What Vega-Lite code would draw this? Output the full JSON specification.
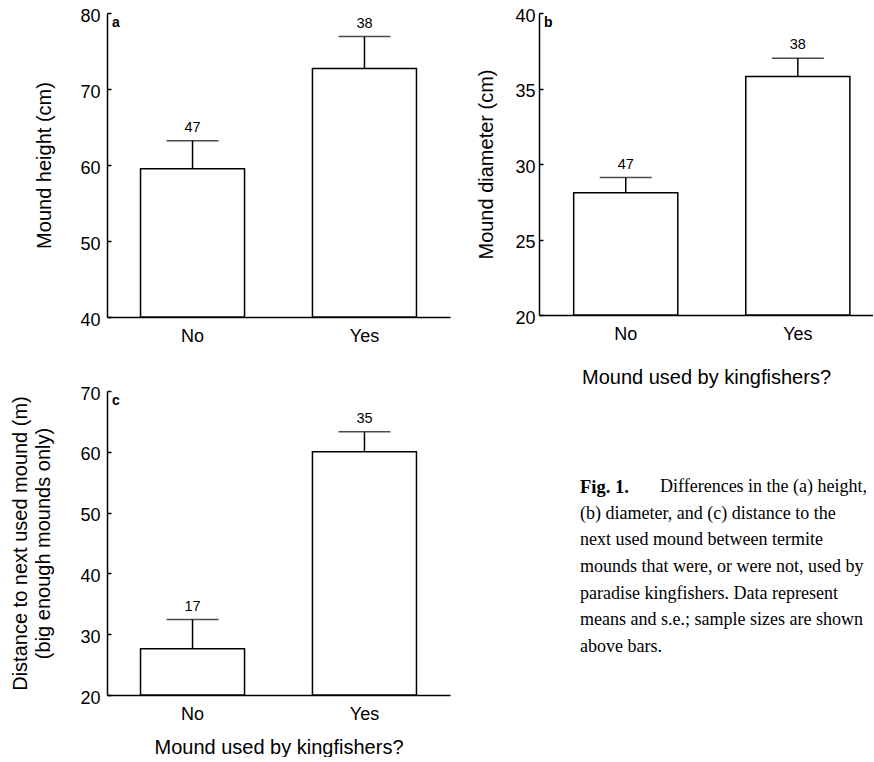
{
  "$schema": "https://vega.github.io/schema/vega-lite/v6.json",
  "padding": {"left": 10, "top": 7, "right": 0, "bottom": 0},
  "background": "white",
  "columns": 2,
  "spacing": {"column": 89, "row": 74},
  "bounds": "flush",
  "config": {
    "view": {"stroke": null},
    "font": "Liberation Sans",
    "axis": {
      "grid": false,
      "domainColor": "black",
      "domainWidth": 1.5,
      "tickColor": "black",
      "tickWidth": 1.5,
      "labelColor": "black",
      "labelFontSize": 18,
      "titleColor": "black",
      "titleFontSize": 20,
      "titleFontWeight": "normal",
      "labelFlush": false
    },
    "axisX": {"ticks": false, "labelPadding": 10, "labelAngle": 0},
    "axisY": {"tickSize": -4, "labelPadding": 11, "labelOffset": 3, "titlePadding": 23}
  },
  "datasets": {
    "bars": [
      {"panel": "a", "used": "No", "mean": 59.5, "upper": 63.2, "n": 47},
      {"panel": "a", "used": "Yes", "mean": 72.7, "upper": 76.9, "n": 38},
      {"panel": "b", "used": "No", "mean": 28.1, "upper": 29.1, "n": 47},
      {"panel": "b", "used": "Yes", "mean": 35.8, "upper": 37.0, "n": 38},
      {"panel": "c", "used": "No", "mean": 27.6, "upper": 32.4, "n": 17},
      {"panel": "c", "used": "Yes", "mean": 60.0, "upper": 63.3, "n": 35}
    ],
    "caption": [
      {"line": 1, "pos": 0, "weight": "bold", "text": "Fig. 1."},
      {"line": 1, "pos": 1, "weight": "normal", "text": "Differences in the (a) height,"},
      {"line": 2, "pos": 0, "weight": "normal", "text": "(b) diameter, and (c) distance to the"},
      {"line": 3, "pos": 0, "weight": "normal", "text": "next used mound between termite"},
      {"line": 4, "pos": 0, "weight": "normal", "text": "mounds that were, or were not, used by"},
      {"line": 5, "pos": 0, "weight": "normal", "text": "paradise kingfishers. Data represent"},
      {"line": 6, "pos": 0, "weight": "normal", "text": "means and s.e.; sample sizes are shown"},
      {"line": 7, "pos": 0, "weight": "normal", "text": "above bars."}
    ]
  },
  "concat": [
    {
      "width": 343,
      "height": 304,
      "title": {"text": "a", "fontSize": 14, "fontWeight": "bold", "anchor": "start", "frame": "group", "offset": -23, "dx": 5, "color": "black"},
      "data": {"name": "bars"},
      "transform": [{"filter": "datum.panel == 'a'"}],
      "encoding": {
        "x": {"field": "used", "type": "nominal", "sort": ["No", "Yes"],
              "scale": {"paddingInner": 0.395, "paddingOuter": 0.195},
              "axis": {"title": null}}
      },
      "layer": [
        {"mark": {"type": "bar", "fill": "white", "stroke": "black", "strokeWidth": 1.5},
         "encoding": {"y": {"field": "mean", "type": "quantitative",
                            "scale": {"domain": [40, 80], "zero": false},
                            "axis": {"title": "Mound height (cm)", "titlePadding": 25, "values": [40,45,50,55,60,65,70,75,80],
                                     "labelExpr": "datum.value % 10 == 0 ? datum.label : ''"}},
                      "y2": {"datum": 40}}},
        {"mark": {"type": "rule", "stroke": "black", "strokeWidth": 1.5},
         "encoding": {"y": {"field": "mean", "type": "quantitative"}, "y2": {"field": "upper"}}},
        {"mark": {"type": "tick", "size": 52, "thickness": 1.5, "color": "black"},
         "encoding": {"y": {"field": "upper", "type": "quantitative"}}},
        {"mark": {"type": "text", "dy": -9, "baseline": "alphabetic", "fontSize": 14.5, "color": "black"},
         "encoding": {"y": {"field": "upper", "type": "quantitative"}, "text": {"field": "n"}}}
      ]
    },
    {
      "width": 334,
      "height": 302,
      "title": {"text": "b", "fontSize": 14, "fontWeight": "bold", "anchor": "start", "frame": "group", "offset": -23, "dx": 5, "color": "black"},
      "data": {"name": "bars"},
      "transform": [{"filter": "datum.panel == 'b'"}],
      "encoding": {
        "x": {"field": "used", "type": "nominal", "sort": ["No", "Yes"],
              "scale": {"paddingInner": 0.395, "paddingOuter": 0.168, "align": 0.6},
              "axis": {"title": "Mound used by kingfishers?", "titlePadding": 24}}
      },
      "layer": [
        {"mark": {"type": "bar", "fill": "white", "stroke": "black", "strokeWidth": 1.5},
         "encoding": {"y": {"field": "mean", "type": "quantitative",
                            "scale": {"domain": [20, 40], "zero": false},
                            "axis": {"title": "Mound diameter (cm)", "titlePadding": 18, "labelPadding": 8, "values": [20,22.5,25,27.5,30,32.5,35,37.5,40],
                                     "labelExpr": "datum.value % 5 == 0 ? datum.label : ''"}},
                      "y2": {"datum": 20}}},
        {"mark": {"type": "rule", "stroke": "black", "strokeWidth": 1.5},
         "encoding": {"y": {"field": "mean", "type": "quantitative"}, "y2": {"field": "upper"}}},
        {"mark": {"type": "tick", "size": 52, "thickness": 1.5, "color": "black"},
         "encoding": {"y": {"field": "upper", "type": "quantitative"}}},
        {"mark": {"type": "text", "dy": -9, "baseline": "alphabetic", "fontSize": 14.5, "color": "black"},
         "encoding": {"y": {"field": "upper", "type": "quantitative"}, "text": {"field": "n"}}}
      ]
    },
    {
      "width": 343,
      "height": 304,
      "title": {"text": "c", "fontSize": 14, "fontWeight": "bold", "anchor": "start", "frame": "group", "offset": -23, "dx": 5, "color": "black"},
      "data": {"name": "bars"},
      "transform": [{"filter": "datum.panel == 'c'"}],
      "encoding": {
        "x": {"field": "used", "type": "nominal", "sort": ["No", "Yes"],
              "scale": {"paddingInner": 0.395, "paddingOuter": 0.195},
              "axis": {"title": "Mound used by kingfishers?", "titlePadding": 14}}
      },
      "layer": [
        {"mark": {"type": "bar", "fill": "white", "stroke": "black", "strokeWidth": 1.5},
         "encoding": {"y": {"field": "mean", "type": "quantitative",
                            "scale": {"domain": [20, 70], "zero": false},
                            "axis": {"title": ["Distance to next used mound (m)", "(big enough mounds only)"],
                                     "titleLineHeight": 23, "titlePadding": 26,
                                     "values": [20,25,30,35,40,45,50,55,60,65,70],
                                     "labelExpr": "datum.value % 10 == 0 ? datum.label : ''"}},
                      "y2": {"datum": 20}}},
        {"mark": {"type": "rule", "stroke": "black", "strokeWidth": 1.5},
         "encoding": {"y": {"field": "mean", "type": "quantitative"}, "y2": {"field": "upper"}}},
        {"mark": {"type": "tick", "size": 52, "thickness": 1.5, "color": "black"},
         "encoding": {"y": {"field": "upper", "type": "quantitative"}}},
        {"mark": {"type": "text", "dy": -9, "baseline": "alphabetic", "fontSize": 14.5, "color": "black"},
         "encoding": {"y": {"field": "upper", "type": "quantitative"}, "text": {"field": "n"}}}
      ]
    },
    {
      "width": 334,
      "height": 304,
      "data": {"name": "caption"},
      "encoding": {
        "x": {"field": "pos", "type": "quantitative", "scale": {"domain": [-0.5125, 3.6625]}, "axis": null},
        "y": {"field": "line", "type": "quantitative", "scale": {"domain": [-2.6, 8.8], "reverse": true}, "axis": null},
        "text": {"field": "text"}
      },
      "layer": [
        {"transform": [{"filter": "datum.weight == 'bold'"}],
         "mark": {"type": "text", "align": "left", "baseline": "middle", "font": "Liberation Serif", "fontSize": 18.5, "fontWeight": "bold", "color": "black"}},
        {"transform": [{"filter": "datum.weight == 'normal'"}],
         "mark": {"type": "text", "align": "left", "baseline": "middle", "font": "Liberation Serif", "fontSize": 18, "color": "black"}}
      ]
    }
  ]
}
